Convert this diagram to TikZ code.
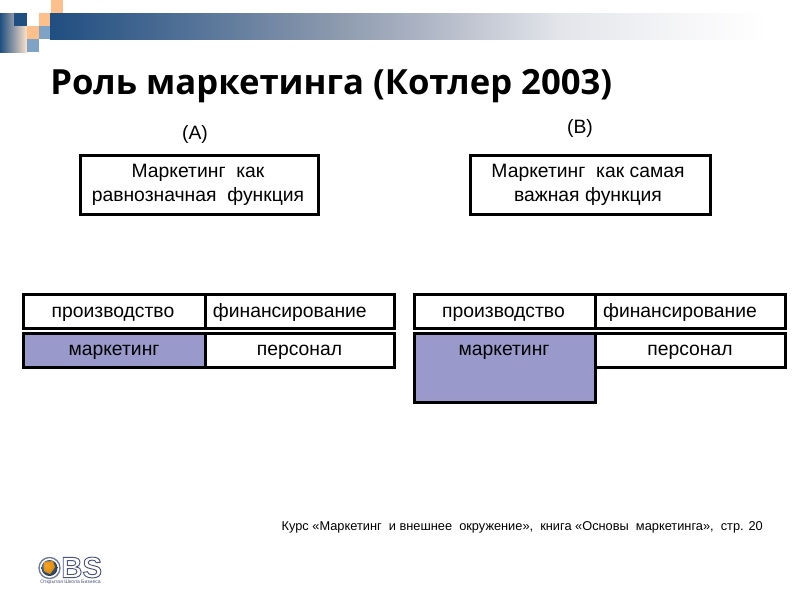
\documentclass[tikz,border=0pt]{standalone}
\usepackage{fontspec}
\setmainfont{Liberation Sans}
\newfontfamily\titlefont{Open Sans}
\newfontfamily\logofont{Liberation Sans Bold}
\definecolor{navy}{HTML}{1F4E80}
\definecolor{peach}{HTML}{FDC08C}
\definecolor{steel}{HTML}{7FA3C4}
\definecolor{mauve}{HTML}{9999CC}
\definecolor{logoline}{HTML}{4A5580}
\definecolor{fadea}{HTML}{4F6F96}
\definecolor{fadeb}{HTML}{8A98AD}
\definecolor{fadec}{HTML}{B0B7C6}
\definecolor{faded}{HTML}{E3E5EA}
\definecolor{fadee}{HTML}{F8F8FA}
\pgfdeclarehorizontalshading{barfade}{100bp}{
 color(0bp)=(navy);
 color(25bp)=(navy);
 color(34bp)=(fadea);
 color(44.5bp)=(fadeb);
 color(51.4bp)=(fadec);
 color(60.4bp)=(faded);
 color(70bp)=(fadee);
 color(75bp)=(white);
 color(100bp)=(white)}
\tikzset{
 x=0.75pt,y=-0.75pt,
 boxed/.style={draw=black,line width=2.25pt,fill=white,inner sep=0pt,outer sep=0pt,align=center,font=\fontsize{14.5}{18}\selectfont,anchor=north west},
 rowone/.style={boxed,text height=11.5pt,text depth=2.5pt},
 rowtwo/.style={boxed,text height=11pt,text depth=3.5pt},
 markbox/.style={fill=mauve},
 plain/.style={inner sep=0pt,font=\fontsize{14.5}{18}\selectfont},
 sized/.style 2 args={minimum width=#1*0.75pt,minimum height=#2*0.75pt}
}
\begin{document}
\begin{tikzpicture}
\useasboundingbox (0,0) rectangle (800,600);
\fill[white] (0,0) rectangle (800,600);
% header decoration
\shade[shading=barfade] (50,13) rectangle (770,39);
\shade[left color=navy,right color=peach!45!white] (0,13) rectangle (27,52);
\fill[navy] (14,13) rectangle (27,26);
\fill[peach] (39,13) rectangle (50,26);
\fill[peach] (51,0) rectangle (63,13);
\fill[peach] (27,26) rectangle (39,39);
\fill[steel] (39,26) rectangle (50,39);
\fill[steel] (27,39) rectangle (39,52);
% title
\node[anchor=west,inner sep=0pt] (title) at (50,86) {\fontsize{26}{30}\selectfont\titlefont\bfseries Роль маркетинга (Котлер 2003)};
% labels
\node[plain] (la) at (195,134) {(A)};
\node[plain] (lb) at (580,128) {(B)};
% top boxes
\node[boxed,sized={238}{59}] (ta) at (80,155) {Маркетинг\ \ как\hspace*{1.5pt}\\равнозначная\ \ функция\hspace*{1.5pt}};
\node[boxed,sized={240}{59}] (tb) at (470,155) {Маркетинг\ \ как самая\hspace*{3pt}\\важная функция\hspace*{3pt}};
% left table
\node[rowone,sized={182}{34}] (a1) at (23,294) {производство\hspace*{1.5pt}};
\node[rowone,sized={189}{34}] (a2) at (205,294) {\hspace*{-14.5pt}финансирование};
\node[rowtwo,markbox,sized={182}{34}] (a3) at (23,333) {маркетинг};
\node[rowtwo,sized={189}{34}] (a4) at (205,333) {персонал};
% right table
\node[rowone,sized={181}{34}] (b1) at (414,294) {производство\hspace*{1.5pt}};
\node[rowone,sized={190}{34}] (b2) at (595,294) {\hspace*{-15pt}финансирование};
\node[boxed,markbox,sized={181}{69}] (b3) at (414,333) {};
\node[plain,anchor=base] (b3t) at (504,355) {маркетинг};
\node[rowtwo,sized={190}{34}] (b4) at (595,333) {персонал};
% source
\node[anchor=east,inner sep=0pt,font=\fontsize{9.6}{11}\selectfont] (src) at (763,527) {Курс «Маркетинг\ \ и внешнее\ \ окружение»,\ \ книга «Основы\ \ маркетинга»,\ \ стр. 20};
% logo
\shade[ball color=steel!70!navy] (49.5,568) circle (8);
\fill[orange!80!yellow,opacity=.85] (44,562) -- (53,561) -- (55,567) -- (50,574) -- (44,571) -- cycle;
\draw[logoline!80!white,line width=1pt] (49.5,568) circle (10.5);
\node[anchor=west,inner sep=0pt,logoline] (l1) at (61,567.5) {\fontsize{22}{24}\selectfont\logofont\special{pdf:code q 1 Tr 0.7 w 0.29 0.33 0.5 RG}BS\special{pdf:code Q}};
\node[anchor=west,inner sep=0pt,logoline,font=\fontsize{3.8}{4}\selectfont] (l3) at (40,582.5) {Открытая Школа Бизнеса};
\end{tikzpicture}
\end{document}
